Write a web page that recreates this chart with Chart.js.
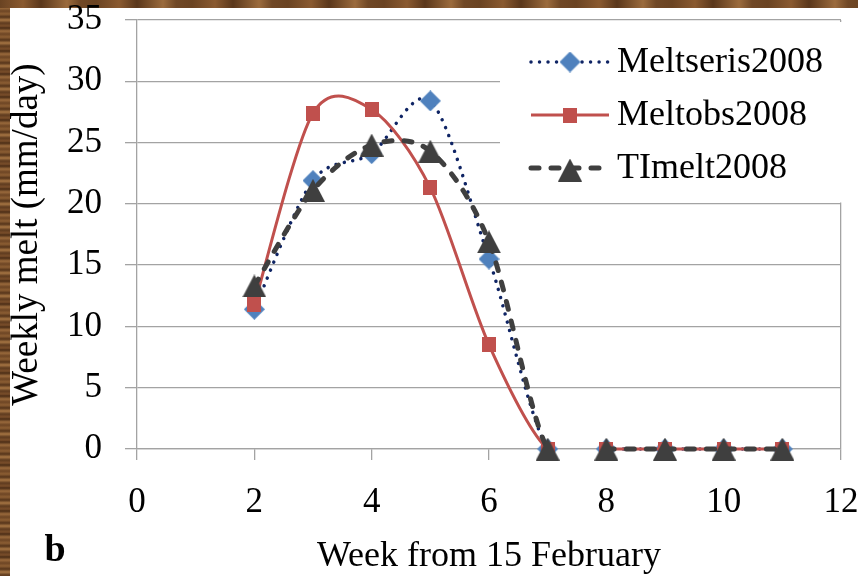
<!DOCTYPE html>
<html>
<head>
<meta charset="utf-8">
<script src="https://cdn.jsdelivr.net/npm/chart.js@4.4.1/dist/chart.umd.min.js"></script>
<style>
html,body{margin:0;padding:0;width:858px;height:576px;overflow:hidden}
body{position:relative;background:repeating-linear-gradient(180deg,#5e3b1f 0px,#7a4e2a 3px,#4b2d16 5px,#9a6a3c 8px,#6d4524 11px,#8c5e33 14px,#55341a 17px,#a67543 20px,#5e3b1f 23px);}
#top{position:absolute;left:0;top:0;width:858px;height:8px;background:repeating-linear-gradient(90deg,#6a4322 0px,#8a5a30 23px,#5a371b 41px,#9b6b3d 67px,#704826 80px,#6a4322 96px);}
#paper{position:absolute;left:10px;top:8px;right:0;bottom:0;background:#ffffff}
#wrap{position:absolute;left:0;top:0;width:858px;height:576px}
</style>
</head>
<body>
<div id="top"></div>
<div id="paper"></div>
<div id="wrap"><canvas id="c" width="858" height="576"></canvas></div>
<script>
// ---- data ----
const weeks = [2, 3, 4, 5, 6, 7, 8, 9, 10, 11];
const meltseris2008 = [11.4, 21.9, 24.1, 28.4, 15.5, 0, 0, 0, 0, 0];
const meltobs2008   = [11.8, 27.4, 27.7, 21.3, 8.5, 0, 0, 0, 0, 0];
const timelt2008    = [13.3, 21.1, 24.8, 24.3, 16.9, 0, 0, 0, 0, 0];
const seriesNames = ['Meltseris2008', 'Meltobs2008', 'TImelt2008'];
const xTickValues = [0, 2, 4, 6, 8, 10, 12];
const yTickValues = [0, 5, 10, 15, 20, 25, 30, 35];
const gapAfterWeek = 7; // no connecting line between week 7 and week 8
const xTitle = 'Week from 15 February';
const yTitle = 'Weekly melt (mm/day)';
const panelLabel = 'b';

// ---- styling ----
const FONT = 'Liberation Serif';
const GRID = '#a3a3a3';
const SMOOTH = 0.15; // Excel-style smoothing factor

function makeMarker(kind, color) {
  const c = document.createElement('canvas');
  let w, h;
  if (kind === 'diamond') { w = 21; h = 21; }
  else if (kind === 'square') { w = 14; h = 15; }
  else { w = 24; h = 23; }
  c.width = w; c.height = h;
  const g = c.getContext('2d');
  g.fillStyle = color;
  g.beginPath();
  if (kind === 'diamond') {
    g.moveTo(w / 2, 0); g.lineTo(w, h / 2); g.lineTo(w / 2, h); g.lineTo(0, h / 2);
  } else if (kind === 'square') {
    g.rect(0, 0, w, h);
  } else {
    g.moveTo(w / 2, 0); g.lineTo(w, h); g.lineTo(0, h);
  }
  g.closePath();
  g.fill();
  return c;
}

const mkDiamond = makeMarker('diamond', '#4f81bd');
const mkSquare = makeMarker('square', '#c0504d');
const mkTriangle = makeMarker('triangle', '#3f3f3f');

const toXY = arr => weeks.map((w, i) => ({ x: w, y: arr[i] }));
const gapSeg = ctx => ctx.p0.parsed.x === gapAfterWeek ? 'rgba(0,0,0,0)' : undefined;

const datasets = [
  {
    label: seriesNames[0], data: toXY(meltseris2008),
    borderColor: '#0f2464', borderWidth: 3.5, borderDash: [0.01, 8.5], borderCapStyle: 'round',
    pointStyle: mkDiamond, pointRadius: 10, tension: 0.4, order: 3, clip: false,
    segment: { borderColor: gapSeg }, _marker: mkDiamond
  },
  {
    label: seriesNames[1], data: toXY(meltobs2008),
    borderColor: '#c0504d', borderWidth: 3, borderDash: [], borderCapStyle: 'butt',
    pointStyle: mkSquare, pointRadius: 10, tension: 0.4, order: 2, clip: false,
    segment: { borderColor: gapSeg }, _marker: mkSquare
  },
  {
    label: seriesNames[2], data: toXY(timelt2008),
    borderColor: '#3f3f3f', borderWidth: 5, borderDash: [8, 12], borderCapStyle: 'round',
    pointStyle: mkTriangle, pointRadius: 12, tension: 0.4, order: 1, clip: false,
    segment: { borderColor: gapSeg }, _marker: mkTriangle
  }
];

// Excel-like (uniform Catmull-Rom) bezier control points, from the library's own point positions
const excelSmooth = {
  id: 'excelSmooth',
  beforeDatasetsDraw(chart) {
    chart.data.datasets.forEach((ds, di) => {
      const meta = chart.getDatasetMeta(di);
      const pts = meta.data;
      for (let i = 0; i < pts.length; i++) {
        const p = pts[i];
        const prev = pts[i - 1] || p;
        const next = pts[i + 1] || p;
        const dx = (next.x - prev.x) * SMOOTH;
        const dy = (next.y - prev.y) * SMOOTH;
        p.cp1x = p.x - dx; p.cp1y = p.y - dy;
        p.cp2x = p.x + dx; p.cp2y = p.y + dy;
      }
      if (meta.dataset) meta.dataset._pointsUpdated = true;
    });
  }
};

const boxLegend = {
  id: 'boxLegend',
  beforeDatasetsDraw(chart) {
    const ctx = chart.ctx;
    ctx.save();
    ctx.fillStyle = '#ffffff';
    ctx.fillRect(500, 22, 343, 180.5);
    const rows = [62, 115, 168];
    chart.data.datasets.forEach((ds, i) => {
      const y = rows[i];
      ctx.save();
      ctx.strokeStyle = ds.borderColor;
      ctx.lineWidth = ds.borderWidth;
      ctx.lineCap = ds.borderCapStyle;
      ctx.setLineDash(ds.borderDash || []);
      ctx.beginPath();
      ctx.moveTo(531, y);
      ctx.lineTo(609, y);
      ctx.stroke();
      ctx.restore();
      const m = ds._marker;
      const my = (i === 2) ? y + 2 : y;
      ctx.drawImage(m, 570 - m.width / 2, my - m.height / 2);
      ctx.fillStyle = '#000000';
      ctx.font = '36px "' + FONT + '"';
      ctx.textAlign = 'left';
      ctx.textBaseline = 'middle';
      ctx.fillText(ds.label, 617, y + 1);
    });
    ctx.restore();
  },
  afterDraw(chart) {
    const ctx = chart.ctx;
    ctx.save();
    ctx.fillStyle = '#000000';
    ctx.font = 'bold 38px "' + FONT + '"';
    ctx.textAlign = 'center';
    ctx.textBaseline = 'alphabetic';
    ctx.fillText(panelLabel, 55, 561);
    ctx.restore();
  }
};

new Chart(document.getElementById('c'), {
  type: 'line',
  data: { datasets },
  plugins: [boxLegend, excelSmooth],
  options: {
    responsive: false,
    animation: false,
    devicePixelRatio: 1,
    layout: { padding: { left: 0, top: 20, right: 14, bottom: 0 } },
    plugins: { legend: { display: false }, tooltip: { enabled: false } },
    scales: {
      x: {
        type: 'linear', min: 0, max: 12,
        afterBuildTicks: s => { s.ticks = xTickValues.map(v => ({ value: v })); },
        afterFit: s => { s.height = 127; s.paddingLeft = 0; s.paddingRight = 0; },
        ticks: { color: '#000', font: { family: FONT, size: 35 }, padding: 22, maxRotation: 0, autoSkip: false },
        grid: {
          drawOnChartArea: true,
          color: c => (c.tick && c.tick.value === 12) ? GRID : 'rgba(0,0,0,0)',
          tickColor: GRID, tickLength: 11, lineWidth: 1.3
        },
        border: { display: true, color: GRID, width: 1.3 },
        title: { display: true, text: xTitle, color: '#000', font: { family: FONT, size: 36, lineHeight: 1.1 }, padding: { top: 0, bottom: 0 } }
      },
      y: {
        type: 'linear', min: 0, max: 35,
        afterBuildTicks: s => { s.ticks = yTickValues.map(v => ({ value: v })); },
        afterFit: s => { s.width = 137; s.paddingTop = 0; s.paddingBottom = 0; },
        ticks: { color: '#000', font: { family: FONT, size: 35 }, padding: 23, autoSkip: false },
        grid: { color: GRID, tickColor: GRID, tickLength: 12, lineWidth: 1.3 },
        border: { display: true, color: GRID, width: 1.3 },
        title: { display: true, text: yTitle, color: '#000', font: { family: FONT, size: 37, lineHeight: 1.2 }, padding: { top: 5, bottom: 0 } }
      }
    }
  }
});
</script>
</body>
</html>
